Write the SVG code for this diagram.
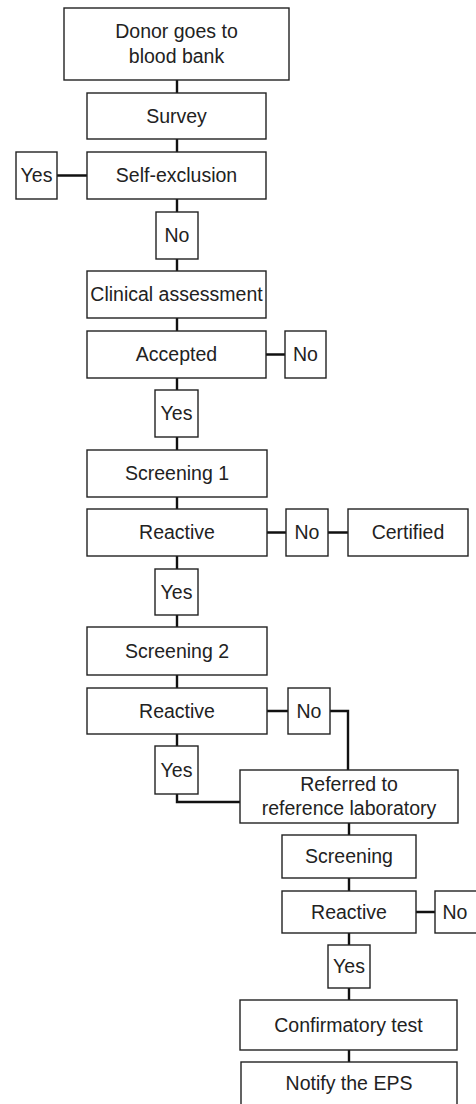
<svg xmlns="http://www.w3.org/2000/svg" width="476" height="1104" viewBox="0 0 476 1104">
<style>
rect{fill:#fff;stroke:#222;stroke-width:1.4}
text{font-family:"Liberation Sans",Arial,sans-serif;font-size:19.5px;fill:#222;text-anchor:middle}
.c path{fill:none;stroke:#111;stroke-width:2.4}
</style>
<rect x="0" y="0" width="476" height="1104" style="fill:#fff;stroke:none"/>
<g class="c" id="connectors">
<path d="M177,80V93M177,139V152M87,175.5H57M177,199V212M177,259V271M177,318V331M266,354.5H285M177,378V390M177,437V450M177,497V509M267,532.5H286M328,532.5H348M177,556V569M177,615V627M177,675V688M267,711H288M330,711H348V770M177,734V746M177,794V802H240M349,823V835M349,878V891M416,912H435M349,933V945M349,988V1000M349,1050V1062"/>
</g>
<g id="donor"><rect x="64" y="8" width="225" height="72"/><text x="176.5" y="38">Donor goes to</text><text x="176.5" y="63">blood bank</text></g>
<g id="survey"><rect x="87" y="93" width="179" height="46"/><text x="176.5" y="123">Survey</text></g>
<g id="selfexcl"><rect x="87" y="152" width="179" height="47"/><text x="176.5" y="182">Self-exclusion</text></g>
<g id="yes1"><rect x="16" y="152" width="41" height="47"/><text x="36.5" y="182">Yes</text></g>
<g id="no1"><rect x="156" y="212" width="42" height="47"/><text x="177" y="242">No</text></g>
<g id="clinical"><rect x="87" y="271" width="179" height="47"/><text x="176.5" y="301">Clinical assessment</text></g>
<g id="accepted"><rect x="87" y="331" width="179" height="47"/><text x="176.5" y="361">Accepted</text></g>
<g id="no2"><rect x="285" y="331" width="41" height="47"/><text x="305.5" y="361">No</text></g>
<g id="yes2"><rect x="155" y="390" width="43" height="47"/><text x="176.5" y="420">Yes</text></g>
<g id="screening1"><rect x="87" y="450" width="180" height="47"/><text x="177" y="480">Screening 1</text></g>
<g id="reactive1"><rect x="87" y="509" width="180" height="47"/><text x="177" y="539">Reactive</text></g>
<g id="no3"><rect x="286" y="509" width="42" height="47"/><text x="307" y="539">No</text></g>
<g id="certified"><rect x="348" y="509" width="120" height="47"/><text x="408" y="539">Certified</text></g>
<g id="yes3"><rect x="155" y="569" width="43" height="46"/><text x="176.5" y="599">Yes</text></g>
<g id="screening2"><rect x="87" y="627" width="180" height="48"/><text x="177" y="658">Screening 2</text></g>
<g id="reactive2"><rect x="87" y="688" width="180" height="46"/><text x="177" y="718">Reactive</text></g>
<g id="no4"><rect x="288" y="688" width="42" height="46"/><text x="309" y="718">No</text></g>
<g id="yes4"><rect x="155" y="746" width="43" height="48"/><text x="176.5" y="777">Yes</text></g>
<g id="referred"><rect x="240" y="770" width="218" height="53"/><text x="349" y="791">Referred to</text><text x="349" y="815">reference laboratory</text></g>
<g id="screening3"><rect x="282" y="835" width="134" height="43"/><text x="349" y="863">Screening</text></g>
<g id="reactive3"><rect x="282" y="891" width="134" height="42"/><text x="349" y="919">Reactive</text></g>
<g id="no5"><rect x="435" y="891" width="44" height="42"/><text x="455" y="919">No</text></g>
<g id="yes5"><rect x="328" y="945" width="42" height="43"/><text x="349" y="973">Yes</text></g>
<g id="confirm"><rect x="240" y="1000" width="217" height="50"/><text x="348.5" y="1032">Confirmatory test</text></g>
<g id="notify"><rect x="241" y="1062" width="216" height="46"/><text x="349" y="1090">Notify the EPS</text></g>
</svg>
